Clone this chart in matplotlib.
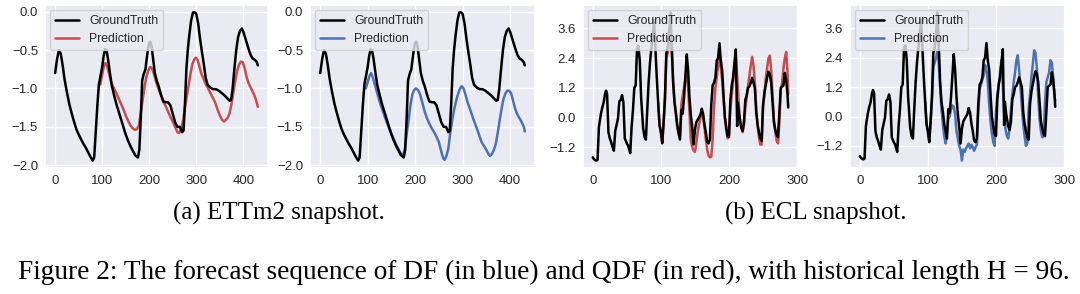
import matplotlib
matplotlib.use('Agg')
import matplotlib.pyplot as plt
import seaborn as sns

sns.set_theme(style='darkgrid')
plt.rcParams.update({
    'font.family': ['Liberation Sans', 'DejaVu Sans'],
    'font.size': 8.5,
})

# ETTm2 snapshot (history 96 + horizon 336)
ett_gt_x = [0, 4, 8, 12, 16, 20, 25, 30, 35, 40, 45, 50, 55, 60, 65, 70, 75, 80, 83, 86,
            90, 93, 97, 100, 103, 106, 109, 112, 116, 120, 125, 130, 135, 140, 145, 150,
            155, 160, 165, 170, 176, 179, 182, 185, 188, 192, 196, 199, 202, 205, 208,
            212, 216, 220, 225, 230, 235, 240, 245, 250, 255, 260, 265, 270, 273, 276,
            279, 282, 285, 289, 293, 297, 300, 304, 308, 312, 316, 320, 324, 330, 336,
            342, 348, 354, 360, 366, 371, 374, 377, 381, 385, 389, 393, 397, 400, 404,
            408, 412, 416, 420, 425, 429, 431]
ett_gt_y = [-0.80, -0.62, -0.50, -0.55, -0.70, -0.88, -1.05, -1.20, -1.32, -1.43, -1.53,
            -1.60, -1.66, -1.72, -1.77, -1.83, -1.89, -1.94, -1.90, -1.60, -1.20, -0.95,
            -0.82, -0.72, -0.58, -0.49, -0.50, -0.60, -0.78, -0.95, -1.08, -1.20, -1.30,
            -1.40, -1.50, -1.60, -1.68, -1.75, -1.81, -1.87, -1.90, -1.80, -1.40, -0.90,
            -0.82, -0.75, -0.55, -0.43, -0.39, -0.45, -0.60, -0.80, -0.90, -0.97, -1.08,
            -1.17, -1.18, -1.18, -1.22, -1.33, -1.44, -1.50, -1.50, -1.57, -1.55, -1.20,
            -0.75, -0.50, -0.32, -0.12, -0.01, -0.01, -0.03, -0.15, -0.35, -0.52, -0.68,
            -0.86, -0.95, -0.99, -1.01, -1.01, -1.03, -1.06, -1.09, -1.13, -1.16, -1.15,
            -1.02, -0.75, -0.50, -0.33, -0.25, -0.22, -0.26, -0.34, -0.42, -0.50, -0.57,
            -0.61, -0.63, -0.66, -0.70]

ett_qdf_x = [96, 100, 104, 107, 111, 115, 120, 125, 130, 135, 140, 145, 150, 155, 160,
             165, 170, 174, 178, 182, 186, 190, 194, 198, 202, 206, 210, 215, 220, 225,
             230, 235, 240, 245, 250, 255, 260, 264, 268, 272, 276, 280, 284, 288, 292,
             296, 299, 303, 307, 311, 316, 320, 325, 330, 335, 340, 345, 350, 355, 359,
             363, 367, 371, 375, 379, 383, 387, 391, 395, 399, 403, 407, 411, 415, 419,
             423, 427, 431]
ett_qdf_y = [-0.95, -0.82, -0.70, -0.67, -0.72, -0.82, -0.93, -1.00, -1.06, -1.13, -1.20,
             -1.27, -1.35, -1.42, -1.48, -1.52, -1.54, -1.53, -1.48, -1.32, -1.15, -0.98,
             -0.85, -0.77, -0.72, -0.74, -0.81, -0.92, -1.01, -1.09, -1.17, -1.23, -1.30,
             -1.37, -1.43, -1.50, -1.57, -1.58, -1.53, -1.42, -1.25, -1.10, -0.95, -0.80,
             -0.68, -0.62, -0.60, -0.63, -0.72, -0.81, -0.88, -0.94, -1.00, -1.06, -1.12,
             -1.18, -1.27, -1.35, -1.41, -1.43, -1.41, -1.38, -1.32, -1.20, -1.05, -0.90,
             -0.77, -0.69, -0.65, -0.66, -0.74, -0.85, -0.93, -0.98, -1.03, -1.08, -1.15,
             -1.24]

ett_df_x = [96, 100, 104, 107, 111, 115, 120, 125, 130, 135, 140, 145, 150, 155, 160,
            165, 170, 174, 178, 182, 186, 190, 194, 198, 202, 206, 210, 215, 220, 225,
            230, 235, 240, 245, 250, 255, 259, 262, 266, 270, 274, 278, 282, 286, 290,
            294, 298, 302, 306, 310, 315, 320, 325, 330, 335, 340, 345, 350, 355, 358,
            362, 366, 370, 374, 378, 382, 386, 390, 394, 398, 402, 406, 410, 414, 418,
            422, 426, 429, 431]
ett_df_y = [-1.00, -0.92, -0.83, -0.80, -0.86, -0.95, -1.06, -1.17, -1.26, -1.35, -1.44,
            -1.52, -1.59, -1.66, -1.73, -1.79, -1.85, -1.87, -1.80, -1.60, -1.42, -1.22,
            -1.08, -1.02, -1.00, -1.02, -1.07, -1.18, -1.30, -1.39, -1.46, -1.52, -1.57,
            -1.63, -1.70, -1.82, -1.91, -1.93, -1.88, -1.78, -1.58, -1.42, -1.28, -1.17,
            -1.08, -1.01, -0.97, -1.00, -1.08, -1.17, -1.26, -1.35, -1.44, -1.52, -1.61,
            -1.70, -1.75, -1.80, -1.86, -1.88, -1.85, -1.80, -1.72, -1.58, -1.42, -1.27,
            -1.14, -1.07, -1.03, -1.03, -1.06, -1.15, -1.25, -1.32, -1.37, -1.41, -1.46,
            -1.50, -1.56]

# ECL snapshot (history 96 + horizon 192)
ecl_gt_x = [0, 2, 5, 7, 9, 10, 12, 14, 16, 18, 19.5, 21, 23, 25, 27, 29, 31, 33, 35, 37,
            39, 41, 43, 45, 47, 50, 52, 55, 57, 59, 61, 63, 65, 67, 69, 71, 74, 76, 78,
            80, 82, 84, 86, 88, 90, 92, 94, 96, 98, 100, 102, 104, 106, 108, 110, 112,
            114, 116, 118, 120, 122, 124, 126, 128, 130, 132, 134, 136, 138, 140, 142,
            144, 146, 148, 150, 152, 154, 156, 158, 160, 162, 164, 166, 168, 170, 172,
            174, 176, 178, 180, 182, 184, 186, 188, 190, 192, 194, 196, 198, 200, 202,
            204, 206, 208, 210, 212, 213, 215, 218, 220, 222, 224, 226, 228, 230, 232,
            234, 236, 238, 240, 242, 244, 246, 248, 250, 252, 254, 256, 258, 260, 262,
            264, 266, 268, 270, 272, 274, 276, 278, 280, 282, 284, 286, 287]
ecl_gt_y = [-1.62, -1.70, -1.75, -1.72, -0.40, -0.20, 0.15, 0.40, 0.60, 0.95, 1.08, 0.95,
            -0.60, -0.85, -1.00, -1.20, -1.35, -0.55, -0.30, -0.05, 0.65, 0.70, 0.90, 0.60,
            -0.85, -1.05, -1.15, -1.45, -0.40, 0.30, 1.20, 1.30, 2.80, 2.90, 2.30, 0.80,
            -0.45, -0.80, -0.90, 0.30, 1.40, 2.20, 2.80, 3.30, 3.95, 2.80, 1.60, 0.60,
            -0.30, -0.60, -1.05, -0.20, 0.80, 2.60, 2.80, 3.40, 4.25, 2.90, 1.40, 0.60,
            0.20, -0.30, -0.60, -0.90, 0.30, 0.15, 0.80, 1.70, 2.55, 1.90, 0.80, 0.10,
            -0.40, -1.10, -0.50, -0.20, -0.10, 0.00, 0.10, 0.35, 0.15, -0.30, -0.60,
            -1.00, -1.05, -0.90, 0.50, 1.30, 1.40, 1.60, 2.30, 2.40, 3.00, 2.30, 1.90,
            0.90, 0.00, -0.40, -0.75, -0.80, 0.70, 1.30, 1.60, 2.20, 2.75, -0.35, 0.60,
            0.10, -0.40, -0.55, -0.20, 0.70, 0.90, 1.20, 1.25, 1.40, 1.60, 1.40, 1.20,
            0.20, -0.30, -0.60, -0.85, -0.95, 0.50, 1.00, 1.30, 1.60, 1.85, 1.75, 1.40,
            0.60, -0.20, -0.50, -0.70, -0.80, 0.20, 1.20, 1.25, 1.30, 1.80, 1.50, 0.90,
            0.40]

ecl_pred_x = [96, 98, 100, 102, 104, 106, 108, 110, 112, 114, 116, 118, 120, 122, 124,
              126, 128, 130, 132, 134, 136, 138, 140, 142, 144, 146, 148, 150, 152, 154,
              156, 158, 160, 162, 164, 166, 168, 170, 172, 174, 176, 178, 180, 182, 184,
              186, 188, 190, 192, 194, 196, 198, 200, 202, 204, 206, 208, 210, 212, 214,
              216, 218, 220, 222, 224, 226, 228, 230, 232, 234, 236, 238, 240, 242, 244,
              246, 248, 250, 252, 254, 256, 258, 260, 262, 264, 266, 268, 270, 272, 274,
              276, 278, 280, 282, 284, 286, 287]
ecl_qdf_y = [0.60, -0.30, -0.60, -1.00, -0.25, 0.70, 2.40, 2.60, 2.90, 3.00, 2.60, 1.50,
             0.70, 0.10, -0.40, -0.70, -0.80, 0.50, 0.90, 1.20, 1.55, 1.70, 1.20, 0.20,
             -0.90, -1.20, -1.35, -1.40, -1.05, -0.60, -0.30, -0.05, 0.15, 0.05, -0.40,
             -0.90, -1.30, -1.55, -1.62, -1.60, -0.90, 0.40, 1.20, 1.60, 2.10, 2.35, 2.00,
             1.50, 0.70, 0.00, -0.55, -0.85, -0.70, 0.30, 0.90, 1.40, 2.00, 2.55, 1.70,
             0.70, -0.10, -0.40, -0.60, -0.30, 0.40, 0.80, 1.30, 1.70, 2.10, 2.45, 2.10,
             1.40, 0.40, -0.30, -0.80, -1.10, -1.10, 0.40, 0.90, 1.60, 2.00, 2.40, 2.50,
             1.90, 0.90, -0.10, -0.60, -0.95, -1.05, -0.20, 1.10, 1.40, 2.00, 2.40, 2.65,
             1.80, 0.95]
ecl_df_y = [0.60, -0.30, -0.60, -1.00, -0.25, 0.70, 2.00, 2.20, 2.40, 2.70, 2.20, 1.20,
            0.30, -0.30, -0.80, -1.10, -0.70, -0.10, 0.00, 0.30, 0.45, 0.40, 0.10, -0.60,
            -0.90, -1.20, -1.35, -1.80, -1.35, -1.45, -1.30, -1.20, -1.10, -1.30, -1.15,
            -1.25, -1.40, -1.25, -1.15, 0.20, 1.10, 1.30, 1.50, 1.70, 2.10, 1.90, 1.40,
            0.50, -0.20, -0.70, -1.05, -1.20, 0.20, 0.90, 1.30, 1.80, 2.30, 1.30, 0.20,
            -0.50, -0.80, -0.90, -0.50, 0.30, 0.90, 1.40, 1.80, 2.30, 2.50, 1.90, 1.20,
            0.40, -0.30, -0.80, -1.20, -1.10, 0.30, 0.90, 1.60, 2.10, 2.70, 2.60, 2.00,
            0.80, -0.10, -0.60, -0.85, -0.80, 0.60, 1.40, 1.60, 1.80, 2.30, 2.20, 1.60,
            0.80, 0.65]

ett_yticks = [-2.0, -1.5, -1.0, -0.5, 0.0]
ett_xticks = [0, 100, 200, 300, 400]
ecl_yticks = [-1.2, 0.0, 1.2, 2.4, 3.6]
ecl_xticks = [0, 100, 200, 300]

RED = '#C44E52'
BLUE = '#4C72B0'

fig = plt.figure(figsize=(10.8, 2.94), dpi=100)
W, H = 1080, 294
bottom, height = (294 - 168) / H, 163 / H
ax1 = fig.add_axes([45 / W, bottom, 223 / W, height])
ax2 = fig.add_axes([310 / W, bottom, 225 / W, height])
ax3 = fig.add_axes([583 / W, bottom, 215 / W, height])
ax4 = fig.add_axes([850 / W, bottom, 215 / W, height])

panels = [
    (ax1, ett_gt_x, ett_gt_y, ett_qdf_x, ett_qdf_y, RED, ett_xticks, ett_yticks),
    (ax2, ett_gt_x, ett_gt_y, ett_df_x, ett_df_y, BLUE, ett_xticks, ett_yticks),
    (ax3, ecl_gt_x, ecl_gt_y, ecl_pred_x, ecl_qdf_y, RED, ecl_xticks, ecl_yticks),
    (ax4, ecl_gt_x, ecl_gt_y, ecl_pred_x, ecl_df_y, BLUE, ecl_xticks, ecl_yticks),
]
for ax, gx, gy, px, py, col, xt, yt in panels:
    ax.plot(gx, gy, color='black', lw=1.8, label='GroundTruth', zorder=3)
    ax.plot(px, py, color=col, lw=1.8, label='Prediction', zorder=2)
    ax.set_xticks(xt)
    ax.set_yticks(yt)
    ax.set_yticklabels(['{:.1f}'.format(v).replace('-', '\u2212') for v in yt])
    ax.tick_params(axis='both', labelsize=9.5, pad=5, colors='.15', length=0)
    ax.legend(loc='upper left', fontsize=8.8, borderaxespad=0.4)

serif = ['Liberation Serif', 'DejaVu Serif']
fig.text(279 / W, 1 - 213 / H, '(a) ETTm2 snapshot.', ha='center', va='center',
         fontsize=18, family=serif, color='black')
fig.text(816 / W, 1 - 213 / H, '(b) ECL snapshot.', ha='center', va='center',
         fontsize=18, family=serif, color='black')
fig.text(18 / W, 1 - 272 / H,
         'Figure 2: The forecast sequence of DF (in blue) and QDF (in red), with historical length H = 96.',
         ha='left', va='center', fontsize=19.6, family=serif, color='black')

fig.savefig('out.png', dpi=100)
